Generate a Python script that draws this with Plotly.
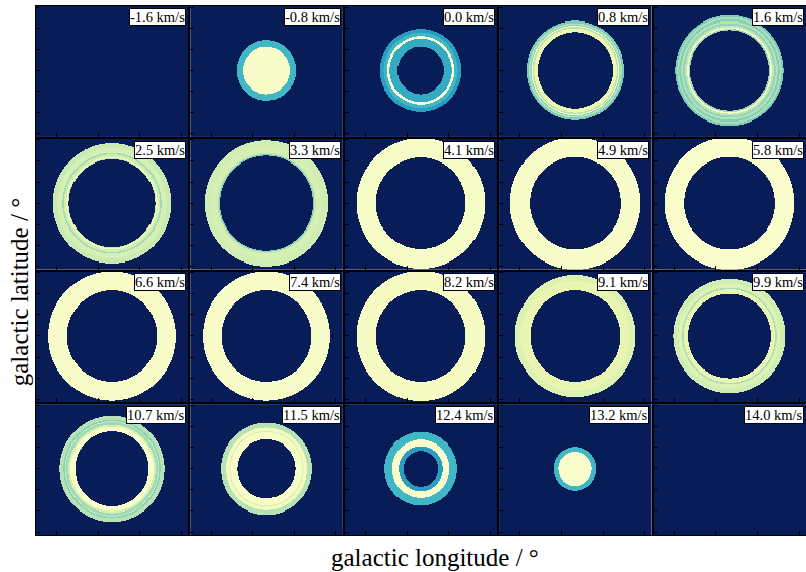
import numpy as np
import plotly.graph_objects as go
from plotly.subplots import make_subplots

# Velocity channels (km/s) of the expanding-shell cube
velocities = [-1.6, -0.8, 0.0, 0.8, 1.6,
              2.5, 3.3, 4.1, 4.9, 5.8,
              6.6, 7.4, 8.2, 9.1, 9.9,
              10.7, 11.5, 12.4, 13.2, 14.0]
channel_labels = [f"{v:.1f} km/s" for v in velocities]

# Emission bands of every channel: outer radii (deg) from outside in, the last
# entry is the radius of the empty hole (0 = filled disk)
ring_radii = [
    [],
    [0.714, 0.560, 0.0],
    [0.983, 0.893, 0.810, 0.750, 0.560],
    [1.174, 1.119, 1.083, 1.060, 1.036, 1.000, 0.905],
    [1.310, 1.262, 1.214, 1.167, 1.119, 1.071, 1.024, 0.988, 0.952],
    [1.424, 1.310, 1.190, 1.155, 1.095, 1.060, 1.040],
    [1.493, 1.333, 1.190, 1.155, 1.124],
    [1.548, 1.083],
    [1.571, 1.095],
    [1.571, 1.095],
    [1.536, 1.083],
    [1.536, 1.083],
    [1.548, 1.083],
    [1.452, 1.310, 1.083],
    [1.357, 1.238, 1.143, 1.107, 1.000],
    [1.262, 1.167, 1.131, 1.107, 1.048, 1.000, 0.888],
    [1.095, 0.976, 0.893, 0.869, 0.698],
    [0.874, 0.690, 0.531, 0.421],
    [0.517, 0.405, 0.0],
    [],
]
# Normalised brightness of each band
ring_levels = [
    [],
    [0.50, 0.95],
    [0.42, 0.50, 0.98, 0.46],
    [0.62, 0.72, 0.66, 0.95, 0.72, 0.87],
    [0.62, 0.70, 0.63, 0.72, 0.66, 0.74, 0.96, 0.68],
    [0.76, 0.80, 0.68, 0.78, 0.90, 0.74],
    [0.78, 0.80, 0.74, 0.64],
    [0.94],
    [0.95],
    [0.96],
    [0.95],
    [0.95],
    [0.93],
    [0.82, 0.86],
    [0.78, 0.82, 0.70, 0.86],
    [0.72, 0.64, 0.76, 0.68, 0.80, 0.95],
    [0.72, 0.92, 0.80, 0.94],
    [0.50, 0.96, 0.42],
    [0.50, 0.96],
    [],
]

# Map extent (deg), shell centre and sampling of each channel map
L_RANGE = (0.5, 4.1667)
B_RANGE = (-1.571, 1.524)
L0, B0 = 2.333, 0.0
NX, NY = 150, 127

ylgnbu = [[0.0, "#081d58"], [0.125, "#253494"], [0.25, "#225ea8"],
          [0.375, "#1d91c0"], [0.5, "#41b6c4"], [0.625, "#7fcdbb"],
          [0.75, "#c7e9b4"], [0.875, "#edf8b1"], [1.0, "#ffffd9"]]

xe = np.linspace(L_RANGE[0], L_RANGE[1], NX + 1)
ye = np.linspace(B_RANGE[0], B_RANGE[1], NY + 1)
xc = np.round(0.5 * (xe[1:] + xe[:-1]), 4)
yc = np.round(0.5 * (ye[1:] + ye[:-1]), 4)
XX, YY = np.meshgrid(xc, yc)
RR = np.hypot(XX - L0, YY - B0)

rows, cols = 4, 5
fig = make_subplots(rows=rows, cols=cols,
                    horizontal_spacing=2 / 770, vertical_spacing=2 / 529)

serif = "Liberation Serif"
for i, v in enumerate(velocities):
    r, c = i // cols + 1, i % cols + 1
    z = np.zeros_like(RR)
    radii, levels = ring_radii[i], ring_levels[i]
    for k, lev in enumerate(levels):
        z[RR <= radii[k]] = lev
    if radii and radii[-1] > 0:
        z[RR <= radii[-1]] = 0.0
    fig.add_trace(go.Heatmap(x=xc, y=yc, z=z, zmin=0, zmax=1,
                             colorscale=ylgnbu, showscale=False,
                             zsmooth=False, hoverinfo="skip"),
                  row=r, col=c)
    ax = "" if i == 0 else str(i + 1)
    fig.add_annotation(xref=f"x{ax} domain", yref=f"y{ax} domain",
                       x=0.985, y=0.985, xanchor="right", yanchor="top",
                       text=channel_labels[i], showarrow=False,
                       font=dict(family=serif, size=14.5, color="black"),
                       bgcolor="white", bordercolor="black", borderwidth=1,
                       borderpad=0)

axis_style = dict(showticklabels=False, ticks="inside", ticklen=4,
                  tickcolor="black", tickwidth=1, showline=True,
                  linecolor="black", linewidth=1, mirror=True,
                  showgrid=False, zeroline=False)
fig.update_xaxes(range=list(L_RANGE), tick0=0, dtick=1, **axis_style)
fig.update_yaxes(range=list(B_RANGE), tick0=0, dtick=0.5, **axis_style)

fig.add_annotation(xref="paper", yref="paper", x=0.518, y=-0.0416,
                   xanchor="center", yanchor="middle", showarrow=False,
                   text="galactic longitude / °",
                   font=dict(family=serif, size=25, color="black"))
fig.add_annotation(xref="paper", yref="paper", x=-0.022, y=0.459,
                   xanchor="center", yanchor="middle", showarrow=False,
                   textangle=-90, text="galactic latitude / °",
                   font=dict(family=serif, size=25, color="black"))

fig.update_layout(width=806, height=572,
                  margin=dict(l=36, r=0, t=6, b=37),
                  paper_bgcolor="white", plot_bgcolor="#081d58",
                  showlegend=False)

fig.write_html("out.html")
